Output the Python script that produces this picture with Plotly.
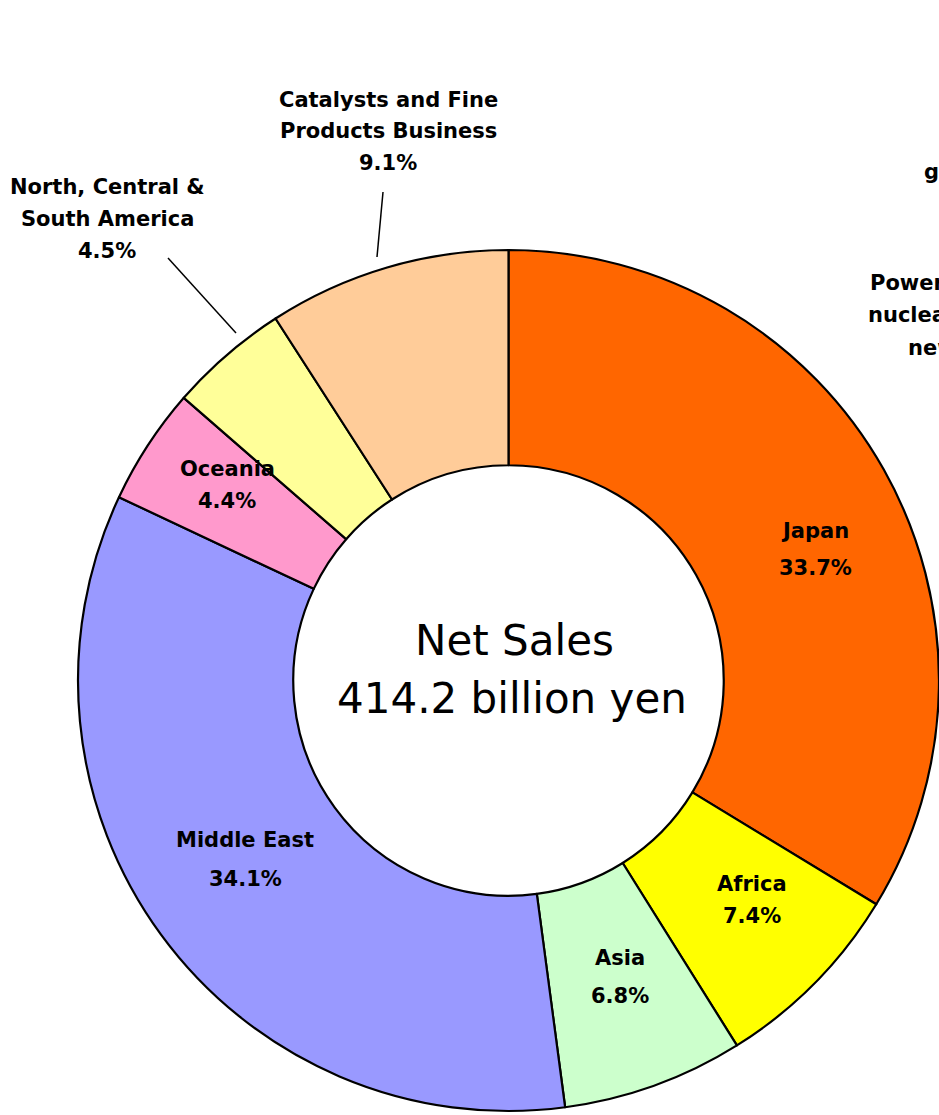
import plotly.graph_objects as go

W, H = 939, 1115

# ---- data ----
categories = ["Japan", "Africa", "Asia", "Middle East", "Oceania",
              "North, Central & South America", "Catalysts and Fine Products Business"]
shares = [33.7, 7.4, 6.8, 34.1, 4.4, 4.5, 9.1]
colors = ["#FF6600", "#FFFF00", "#CCFFCC", "#9999FF", "#FF99CC", "#FFFF99", "#FFCC99"]
center_title = ["Net Sales", "414.2 billion yen"]

# label lines (text pieces) and where to put them (pixel centres)
label_lines = {
    "Japan": (["Japan", "33.7%"], 815, [531, 568]),
    "Africa": (["Africa", "7.4%"], 752, [884, 916]),
    "Asia": (["Asia", "6.8%"], 620, [958, 996]),
    "Middle East": (["Middle East", "34.1%"], 245, [840, 879]),
    "Oceania": (["Oceania", "4.4%"], 227, [469, 501]),
    "North, Central & South America": (["North, Central &", "South America", "4.5%"], 107, [187, 219, 251]),
    "Catalysts and Fine Products Business": (["Catalysts and Fine", "Products Business", "9.1%"], 388, [100, 131, 163]),
}

FONT = "DejaVu Sans, Liberation Sans, sans-serif"


def px(x):
    return x / W


def py(y):
    return 1 - y / H


fig = go.Figure()
fig.add_trace(go.Pie(
    labels=categories,
    values=shares,
    sort=False,
    direction="clockwise",
    rotation=0,
    hole=0.5,
    marker=dict(colors=colors, line=dict(color="black", width=2.2)),
    textinfo="none",
    hoverinfo="label+percent",
    showlegend=False,
    domain=dict(x=[78 / W, 1.0], y=[py(1111), py(250)]),
))

annotations = []
for cat in categories:
    lines, cx, ys = label_lines[cat]
    for t, yy in zip(lines, ys):
        annotations.append(dict(
            text=t, x=px(cx), y=py(yy), xref="paper", yref="paper",
            xanchor="center", yanchor="middle", showarrow=False,
            font=dict(family=FONT, size=21, color="black", weight="bold"),
        ))

# centre text
annotations.append(dict(text=center_title[0], x=px(514), y=py(640), xref="paper", yref="paper",
                        showarrow=False, xanchor="center", yanchor="middle",
                        font=dict(family=FONT, size=42, color="black")))
annotations.append(dict(text=center_title[1], x=px(512), y=py(698), xref="paper", yref="paper",
                        showarrow=False, xanchor="center", yanchor="middle",
                        font=dict(family=FONT, size=42, color="black")))

# labels of the neighbouring chart, cut off at the right edge as in the reference
for t, x0, yy in [("g", 922, 172), ("Power", 868, 283), ("nuclea", 866, 315), ("new", 906, 348)]:
    annotations.append(dict(text=t, x=px(x0), y=py(yy), xref="paper", yref="paper",
                            xanchor="left", yanchor="middle", showarrow=False,
                            font=dict(family=FONT, size=21, color="black", weight="bold")))

shapes = [
    dict(type="line", xref="paper", yref="paper", x0=px(168), y0=py(258), x1=px(236), y1=py(333),
         line=dict(color="black", width=1.5)),
    dict(type="line", xref="paper", yref="paper", x0=px(383), y0=py(192), x1=px(377), y1=py(257),
         line=dict(color="black", width=1.5)),
]

fig.update_layout(
    width=W, height=H,
    margin=dict(l=0, r=0, t=0, b=0),
    paper_bgcolor="white",
    plot_bgcolor="white",
    annotations=annotations,
    shapes=shapes,
)

fig.write_html("out.html", config={"displayModeBar": False},
               post_script="document.body.style.margin='0';document.body.style.overflow='hidden';")
